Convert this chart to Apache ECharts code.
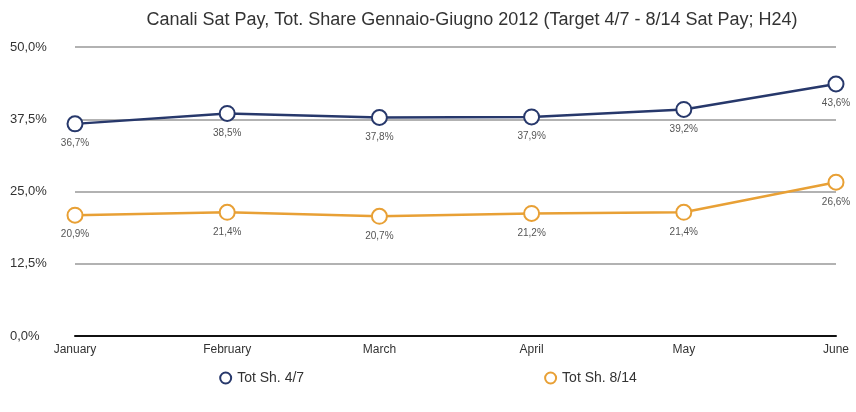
<!DOCTYPE html>
<html>
<head>
<meta charset="utf-8">
<script src="https://cdn.jsdelivr.net/npm/echarts@6/dist/echarts.min.js"></script>
<style>
  html, body { margin: 0; padding: 0; background: #fff; }
  #chart { width: 856px; height: 412px; }
</style>
</head>
<body>
<div id="chart"></div>
<script>
var months = ['January', 'February', 'March', 'April', 'May', 'June'];
var share47 = [36.7, 38.5, 37.8, 37.9, 39.2, 43.6];
var share814 = [20.9, 21.4, 20.7, 21.2, 21.4, 26.6];
var seriesNames = ['Tot Sh. 4/7', 'Tot Sh. 8/14'];

function pct(v) {
    return v.toFixed(1).replace('.', ',') + '%';
}

var myChart = echarts.init(document.getElementById('chart'));
var font = 'Liberation Sans, Arial, sans-serif';

function makeSeries(name, values, color) {
    return {
        name: name,
        type: 'line',
        data: values,
        symbol: 'emptyCircle',
        symbolSize: 15,
        lineStyle: { color: color, width: 2.5 },
        itemStyle: { color: color, borderColor: color, borderWidth: 3 },
        label: {
            show: true,
            position: 'bottom',
            distance: 6,
            color: '#555',
            fontSize: 10,
            fontFamily: font,
            formatter: function (p) { return pct(p.value); }
        }
    };
}

var option = {
    animation: false,
    title: {
        text: 'Canali Sat Pay, Tot. Share Gennaio-Giugno 2012 (Target 4/7 - 8/14 Sat Pay; H24)',
        left: 467,
        textAlign: 'center',
        top: 6,
        textStyle: { color: '#333', fontSize: 18, fontWeight: 'normal', fontFamily: font }
    },
    legend: {
        data: seriesNames,
        bottom: 22,
        left: 'center',
        itemGap: 240,
        itemWidth: 13,
        itemHeight: 11,
        icon: 'emptyCircle',
        textStyle: { color: '#333', fontSize: 14, fontFamily: font }
    },
    grid: { left: 75, right: 20, top: 47, bottom: 76 },
    xAxis: {
        type: 'category',
        data: months,
        boundaryGap: false,
        axisLine: { lineStyle: { color: '#111', width: 2 } },
        axisTick: { show: false },
        axisLabel: { color: '#333', fontSize: 12, fontFamily: font, margin: 8 }
    },
    yAxis: {
        type: 'value',
        min: 0,
        max: 50,
        interval: 12.5,
        axisLine: { show: false },
        axisTick: { show: false },
        axisLabel: {
            color: '#333', fontSize: 13, fontFamily: font, margin: 65, align: 'left',
            formatter: function (v) { return pct(v); }
        },
        splitLine: { lineStyle: { color: '#999', width: 1.5 } }
    },
    series: [
        makeSeries(seriesNames[0], share47, '#27386b'),
        makeSeries(seriesNames[1], share814, '#e8a035')
    ]
};
myChart.setOption(option);
</script>
</body>
</html>
